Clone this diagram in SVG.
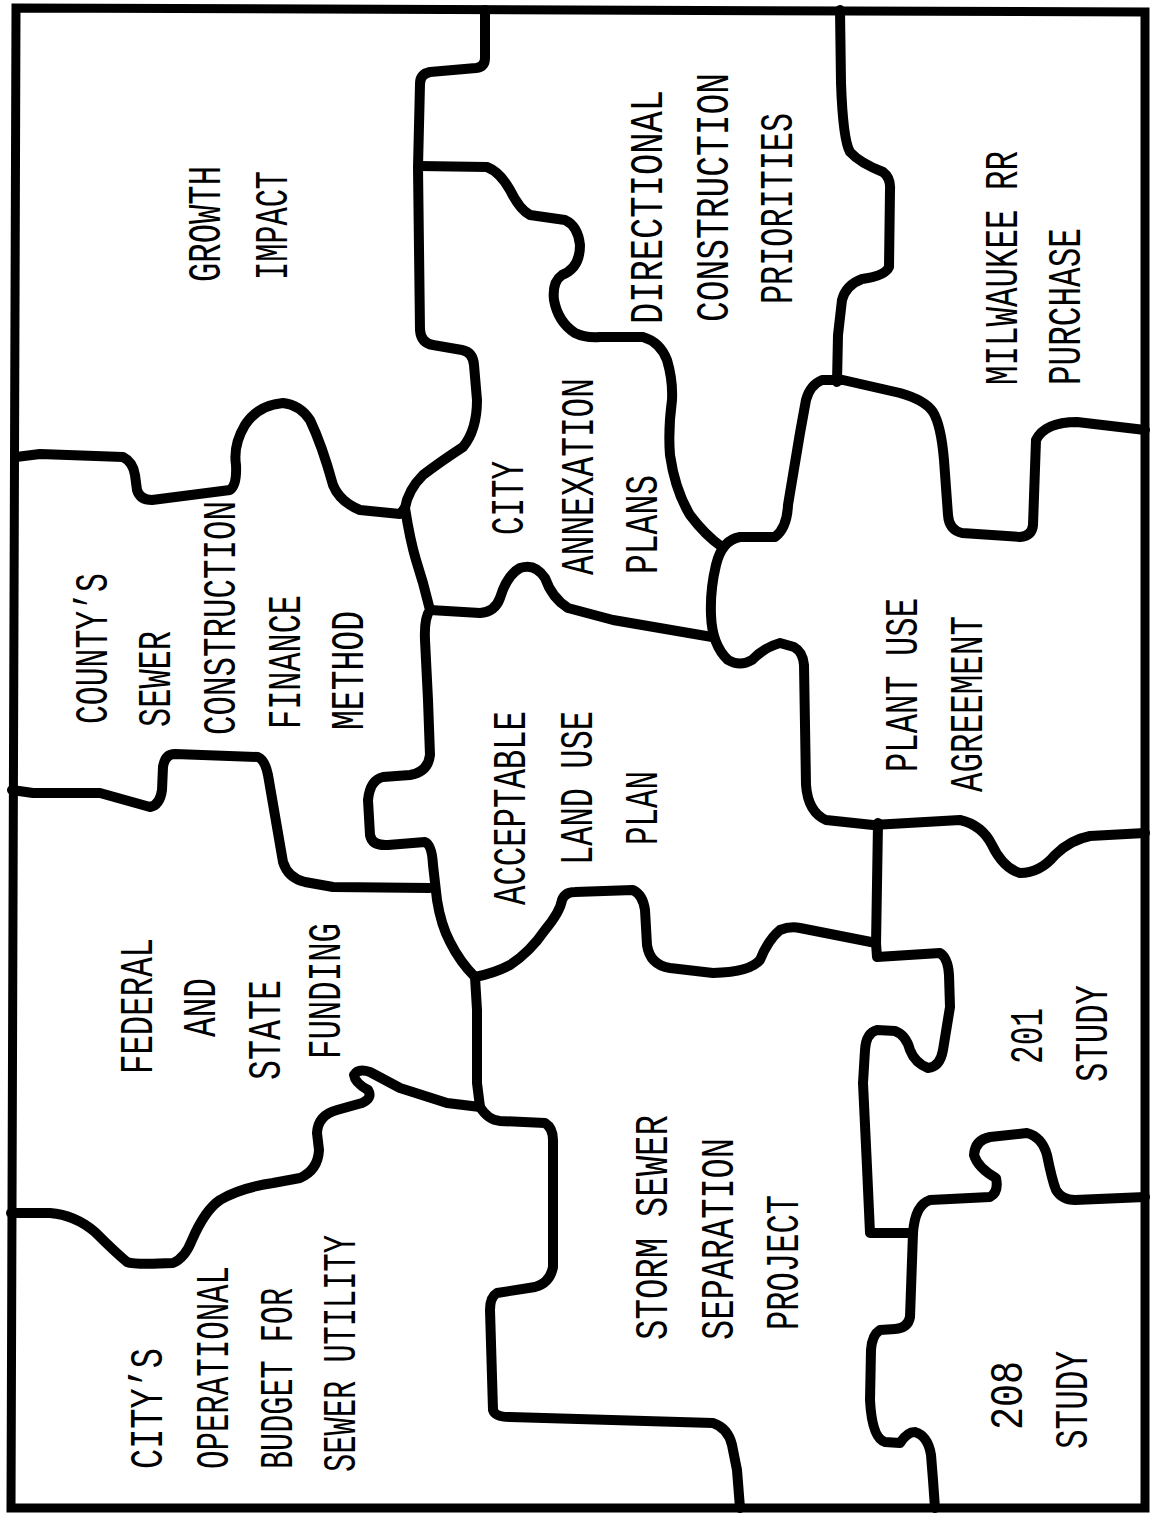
<svg xmlns="http://www.w3.org/2000/svg" width="1150" height="1516" viewBox="0 0 1150 1516">
<style>
.t{font-family:"Liberation Mono","DejaVu Sans Mono",monospace;font-size:46px;fill:#000}
.ln{fill:none;stroke:#000;stroke-width:10;stroke-linecap:round;stroke-linejoin:round}
.bd{fill:none;stroke:#000;stroke-width:9;stroke-linejoin:miter}
</style>
<rect width="1150" height="1516" fill="#fff"/>
<g id="connectors">
<path class="bd" d="M16,8 L1145,12 L1145,1508 L11,1508 Z"/>
<path class="ln" d="M485,10 L485,58 Q485,67 476,68 L430,72 Q420,74 420,84 L418,167 L420,330 Q421,343 433,345 L462,350 Q473,352 474,365 L477,400 Q477,430 463,447 Q440,462 423,475 Q408,490 405,508"/>
<path class="ln" d="M419,166 L487,167 Q500,172 510,190 Q520,210 530,215 L565,220 Q578,226 580,245 Q580,268 562,275 Q552,282 554,300 Q558,322 575,333 Q585,338 600,337 L643,337 Q660,342 667,360 Q673,380 672,400 Q668,430 670,455 Q675,490 690,515 Q705,535 722,547"/>
<path class="ln" d="M840,10 L841,83 Q843,140 850,152 Q860,163 883,172 Q891,178 890,190 L889,267 Q885,276 862,279 Q846,285 842,300 L838,335 L837,382"/>
<path class="ln" d="M1145,430 L1077,422 Q1045,422 1036,440 L1033,525 Q1032,536 1020,537 L962,533 Q949,530 948,515 L944,460 Q941,425 933,412 Q925,400 900,393 L843,380 L822,380 Q810,385 806,400 L800,433 L788,505 Q787,528 775,537 L740,537 Q722,540 716,565 Q710,590 711,615 Q712,645 728,660 Q740,667 752,660 Q765,647 780,643 L794,647 Q803,652 804,665 L806,785 Q808,812 826,820 L873,825 L960,820 Q982,825 992,845 Q1003,868 1020,873 Q1040,873 1055,855 Q1070,840 1090,836 L1145,833"/>
<path class="ln" d="M430,610 L480,613 Q495,612 500,598 Q507,575 520,568 Q535,563 545,578 Q552,598 568,608 L613,620 L712,637"/>
<path class="ln" d="M405,508 Q410,540 416,560 L423,583 L430,610 Q424,618 425,640 L428,700 L430,755 Q428,772 410,775 L383,777 Q370,780 368,800 L370,835 Q372,846 388,845 L425,842 Q432,845 433,865 L437,900 Q441,925 450,942 Q460,962 475,977 L477,1010 L477,1083 L480,1107"/>
<path class="ln" d="M16,457 L40,454 L123,457 Q133,462 135,475 L137,490 Q140,500 152,500 L230,490 Q237,485 236,465 Q233,445 245,425 Q258,405 283,403 Q300,405 310,420 Q322,445 333,485 Q340,502 360,510 L400,514 L405,508"/>
<path class="ln" d="M12,790 L33,793 L100,793 L150,807 Q160,805 162,790 L163,767 Q165,754 175,754 L258,757 Q265,760 268,775 L283,862 Q288,878 305,882 L333,887 L430,888"/>
<path class="ln" d="M475,977 Q495,973 510,965 Q530,952 545,930 Q560,912 562,900 Q565,892 575,892 L633,890 Q643,895 645,910 L647,945 Q650,965 670,968 L713,973 Q750,972 760,960 Q768,940 780,930 Q790,926 800,928 L876,943 L877,957 L940,953 Q948,958 949,975 L950,1007 L943,1050 Q940,1067 928,1068 Q915,1063 910,1050 Q906,1035 895,1031 L877,1030 Q866,1033 865,1050 L863,1083 L867,1167 L870,1233 L913,1233"/>
<path class="ln" d="M878,823 L876,945"/>
<path class="ln" d="M913,1233 Q915,1205 930,1200 L990,1197 Q999,1192 996,1178 Q978,1168 974,1155 Q975,1140 990,1137 L1027,1133 Q1042,1137 1047,1155 Q1052,1180 1056,1190 Q1062,1200 1075,1200 L1145,1197"/>
<path class="ln" d="M913,1233 L910,1317 Q908,1328 895,1329 L880,1330 Q872,1335 871,1350 L870,1400 Q872,1438 885,1442 L900,1443 Q907,1432 915,1432 Q928,1436 931,1455 L933,1480 L935,1508"/>
<path class="ln" d="M480,1107 Q488,1120 500,1121 L545,1123 Q553,1128 553,1140 L553,1267 Q550,1283 535,1287 L497,1293 Q490,1297 490,1310 L493,1410 Q495,1417 510,1417 L713,1423 Q728,1428 732,1445 L737,1470 L740,1508"/>
<path class="ln" d="M11,1213 L50,1213 Q75,1215 95,1232 Q115,1252 127,1262 Q135,1265 173,1263 Q185,1258 192,1240 Q205,1210 220,1200 Q240,1188 273,1183 L300,1178 Q318,1170 319,1150 L317,1133 Q318,1115 337,1110 L362,1103 Q373,1098 368,1090 Q355,1083 354,1075 Q358,1068 370,1072 L400,1088 L447,1103 L480,1107"/>
</g>
<g id="growth-impact">
<text class="t" transform="translate(220,282) rotate(-90)" textLength="116" lengthAdjust="spacingAndGlyphs">GROWTH</text>
<text class="t" transform="translate(287,280) rotate(-90)" textLength="109" lengthAdjust="spacingAndGlyphs">IMPACT</text>
</g>
<g id="directional-construction-priorities">
<text class="t" transform="translate(662,324) rotate(-90)" textLength="234" lengthAdjust="spacingAndGlyphs">DIRECTIONAL</text>
<text class="t" transform="translate(728,322) rotate(-90)" textLength="249" lengthAdjust="spacingAndGlyphs">CONSTRUCTION</text>
<text class="t" transform="translate(792,304) rotate(-90)" textLength="191" lengthAdjust="spacingAndGlyphs">PRIORITIES</text>
</g>
<g id="milwaukee-rr-purchase">
<text class="t" transform="translate(1017,385) rotate(-90)" textLength="234" lengthAdjust="spacingAndGlyphs">MILWAUKEE RR</text>
<text class="t" transform="translate(1080,385) rotate(-90)" textLength="157" lengthAdjust="spacingAndGlyphs">PURCHASE</text>
</g>
<g id="city-annexation-plans">
<text class="t" transform="translate(523,535) rotate(-90)" textLength="74" lengthAdjust="spacingAndGlyphs">CITY</text>
<text class="t" transform="translate(593,575) rotate(-90)" textLength="197" lengthAdjust="spacingAndGlyphs">ANNEXATION</text>
<text class="t" transform="translate(657,574) rotate(-90)" textLength="99" lengthAdjust="spacingAndGlyphs">PLANS</text>
</g>
<g id="acceptable-land-use-plan">
<text class="t" transform="translate(525,905) rotate(-90)" textLength="194" lengthAdjust="spacingAndGlyphs">ACCEPTABLE</text>
<text class="t" transform="translate(592,865) rotate(-90)" textLength="154" lengthAdjust="spacingAndGlyphs">LAND USE</text>
<text class="t" transform="translate(657,845) rotate(-90)" textLength="74" lengthAdjust="spacingAndGlyphs">PLAN</text>
</g>
<g id="plant-use-agreement">
<text class="t" transform="translate(917,772) rotate(-90)" textLength="174" lengthAdjust="spacingAndGlyphs">PLANT USE</text>
<text class="t" transform="translate(982,792) rotate(-90)" textLength="176" lengthAdjust="spacingAndGlyphs">AGREEMENT</text>
</g>
<g id="countys-sewer-construction-finance-method">
<text class="t" transform="translate(107,724) rotate(-90)" textLength="151" lengthAdjust="spacingAndGlyphs">COUNTY’S</text>
<text class="t" transform="translate(170,727) rotate(-90)" textLength="96" lengthAdjust="spacingAndGlyphs">SEWER</text>
<text class="t" transform="translate(235,735) rotate(-90)" textLength="234" lengthAdjust="spacingAndGlyphs">CONSTRUCTION</text>
<text class="t" transform="translate(300,729) rotate(-90)" textLength="134" lengthAdjust="spacingAndGlyphs">FINANCE</text>
<text class="t" transform="translate(363,730) rotate(-90)" textLength="119" lengthAdjust="spacingAndGlyphs">METHOD</text>
</g>
<g id="federal-and-state-funding">
<text class="t" transform="translate(152,1074) rotate(-90)" textLength="136" lengthAdjust="spacingAndGlyphs">FEDERAL</text>
<text class="t" transform="translate(215,1037) rotate(-90)" textLength="59" lengthAdjust="spacingAndGlyphs">AND</text>
<text class="t" transform="translate(280,1080) rotate(-90)" textLength="100" lengthAdjust="spacingAndGlyphs">STATE</text>
<text class="t" transform="translate(340,1059) rotate(-90)" textLength="136" lengthAdjust="spacingAndGlyphs">FUNDING</text>
</g>
<g id="citys-operational-budget">
<text class="t" transform="translate(162,1469) rotate(-90)" textLength="121" lengthAdjust="spacingAndGlyphs">CITY’S</text>
<text class="t" transform="translate(228,1469) rotate(-90)" textLength="203" lengthAdjust="spacingAndGlyphs">OPERATIONAL</text>
<text class="t" transform="translate(292,1469) rotate(-90)" textLength="181" lengthAdjust="spacingAndGlyphs">BUDGET FOR</text>
<text class="t" transform="translate(355,1472) rotate(-90)" textLength="237" lengthAdjust="spacingAndGlyphs">SEWER UTILITY</text>
</g>
<g id="storm-sewer-separation-project">
<text class="t" transform="translate(667,1340) rotate(-90)" textLength="225" lengthAdjust="spacingAndGlyphs">STORM SEWER</text>
<text class="t" transform="translate(733,1340) rotate(-90)" textLength="202" lengthAdjust="spacingAndGlyphs">SEPARATION</text>
<text class="t" transform="translate(798,1330) rotate(-90)" textLength="135" lengthAdjust="spacingAndGlyphs">PROJECT</text>
</g>
<g id="study-201">
<text class="t" transform="translate(1042,1064) rotate(-90)" textLength="56" lengthAdjust="spacingAndGlyphs">201</text>
<text class="t" transform="translate(1107,1082) rotate(-90)" textLength="97" lengthAdjust="spacingAndGlyphs">STUDY</text>
</g>
<g id="study-208">
<text class="t" transform="translate(1022,1430) rotate(-90)" textLength="69" lengthAdjust="spacingAndGlyphs">208</text>
<text class="t" transform="translate(1087,1449) rotate(-90)" textLength="98" lengthAdjust="spacingAndGlyphs">STUDY</text>
</g>
</svg>
